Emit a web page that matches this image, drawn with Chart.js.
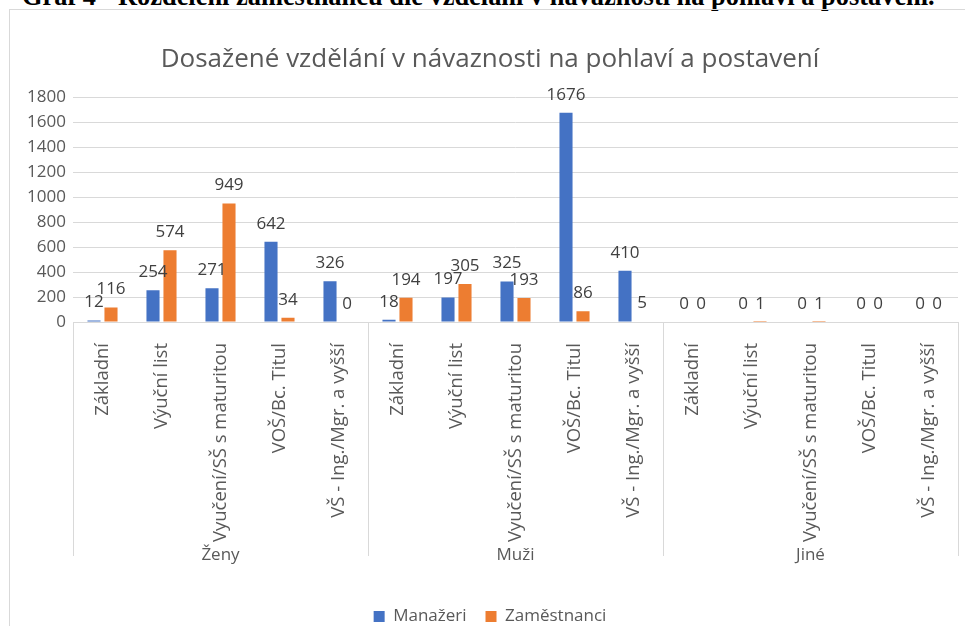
<!DOCTYPE html>
<html>
<head>
<meta charset="utf-8">
<script src="https://cdn.jsdelivr.net/npm/chart.js@4.4.0/dist/chart.umd.min.js"></script>
<style>
  body { margin: 0; background: #fff; overflow: hidden; }
  #head {
    position: absolute; left: 22px; top: -17px; white-space: nowrap;
    font: bold 26.4px/26px "Liberation Serif", serif; color: #000;
  }
  #frame {
    position: absolute; left: 9px; top: 9px; width: 980px; height: 700px;
    border: 1px solid #d9d9d9; box-sizing: border-box;
  }
  #wrap { position: absolute; left: 0; top: 0; width: 965px; height: 640px; }
</style>
</head>
<body>
<div id="head">Graf 4 - Rozdělení zaměstnanců dle vzdělání v návaznosti na pohlaví a postavení.</div>
<div id="frame"></div>
<div id="wrap"><canvas id="chart"></canvas></div>
<script>
const groups = ['Ženy', 'Muži', 'Jiné'];
const levels = ['Základní', 'Výuční list', 'Vyučení/SŠ s maturitou', 'VOŠ/Bc. Titul', 'VŠ - Ing./Mgr. a vyšší'];
const manazeri = [12, 254, 271, 642, 326, 18, 197, 325, 1676, 410, 0, 0, 0, 0, 0];
const zamestnanci = [116, 574, 949, 34, 0, 194, 305, 193, 86, 5, 0, 1, 1, 0, 0];
const yTicks = [0, 200, 400, 600, 800, 1000, 1200, 1400, 1600, 1800];

const grey = '#595959';
const font = '"Open Sans", sans-serif';

// value labels above bars
const barLabels = {
    id: 'barLabels',
    afterDatasetsDraw(chart) {
        const ctx = chart.ctx;
        ctx.save();
        ctx.font = '17px ' + font;
        ctx.fillStyle = '#404040';
        ctx.textAlign = 'center';
        ctx.textBaseline = 'middle';
        chart.data.datasets.forEach((ds, i) => {
            chart.getDatasetMeta(i).data.forEach((bar, j) => {
                ctx.fillText(ds.data[j], bar.x, bar.y - 18);
            });
        });
        ctx.restore();
    }
};

// group labels + separators under the category axis
const groupAxis = {
    id: 'groupAxis',
    afterDraw(chart) {
        const ctx = chart.ctx;
        const x = chart.scales.x;
        const top = chart.chartArea.bottom;
        const per = levels.length;
        const step = x.getPixelForTick(1) - x.getPixelForTick(0);
        ctx.save();
        ctx.strokeStyle = '#d9d9d9';
        ctx.lineWidth = 1;
        for (let g = 0; g <= groups.length; g++) {
            const idx = g * per;
            const px = idx < x.ticks.length ? x.getPixelForTick(idx) - step / 2 : x.right;
            ctx.beginPath();
            ctx.moveTo(Math.round(px) + 0.5, top);
            ctx.lineTo(Math.round(px) + 0.5, top + 234);
            ctx.stroke();
        }
        ctx.font = '17px ' + font;
        ctx.fillStyle = grey;
        ctx.textAlign = 'center';
        ctx.textBaseline = 'middle';
        groups.forEach((g, i) => {
            const a = x.getPixelForTick(i * per);
            const b = x.getPixelForTick(i * per + per - 1);
            ctx.fillText(g, (a + b) / 2, top + 233);
        });
        ctx.restore();
    }
};

const labels = groups.flatMap(() => levels);

new Chart(document.getElementById('chart'), {
    type: 'bar',
    data: {
        labels: labels,
        datasets: [{
            label: 'Manažeri',
            data: manazeri,
            backgroundColor: '#4472c4',
            barPercentage: 0.77,
            categoryPercentage: 0.576
        }, {
            label: 'Zaměstnanci',
            data: zamestnanci,
            backgroundColor: '#ed7d31',
            barPercentage: 0.77,
            categoryPercentage: 0.576
        }]
    },
    options: {
        responsive: true,
        maintainAspectRatio: false,
        animation: false,
        layout: { padding: { left: 22, right: 7, top: 0, bottom: 5 } },
        plugins: {
            title: {
                display: true,
                text: 'Dosažené vzdělání v návaznosti na pohlaví a postavení',
                color: grey,
                font: { family: font, size: 26, weight: 'normal' },
                padding: { top: 44, bottom: 22 }
            },
            legend: {
                position: 'bottom',
                labels: {
                    color: grey,
                    font: { family: font, size: 17 },
                    boxWidth: 11,
                    boxHeight: 11,
                    padding: 19
                }
            },
            tooltip: { enabled: false }
        },
        scales: {
            x: {
                grid: { display: false },
                border: { color: '#d9d9d9' },
                ticks: {
                    color: grey,
                    font: { family: font, size: 18.5 },
                    minRotation: 90,
                    maxRotation: 90,
                    autoSkip: false,
                    padding: 13
                },
                afterFit(scale) { scale.height = 267; }
            },
            y: {
                min: 0,
                max: 1800,
                afterBuildTicks(scale) { scale.ticks = yTicks.map(v => ({ value: v })); },
                grid: { color: '#d9d9d9', drawTicks: false },
                border: { display: false },
                ticks: {
                    color: grey,
                    font: { family: font, size: 17 },
                    padding: 7,
                    callback: v => String(v)
                },
                afterFit(scale) { scale.width = 51; }
            }
        }
    },
    plugins: [barLabels, groupAxis]
});
</script>
</body>
</html>
